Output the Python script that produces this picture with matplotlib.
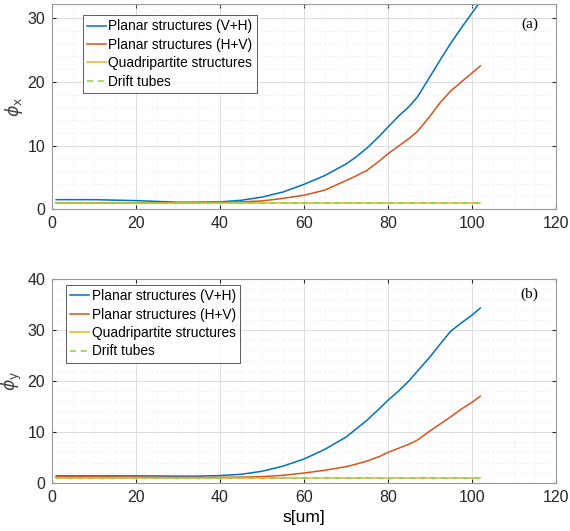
import numpy as np
import matplotlib
matplotlib.use("Agg")
import matplotlib.pyplot as plt
from matplotlib.ticker import MultipleLocator

plt.rcParams["font.family"] = ["Liberation Sans", "DejaVu Sans"]

# s[um] sample positions
s = [1, 10, 20, 30, 35, 40, 45, 50, 55, 60, 65, 70, 72, 75, 78, 80, 82.5, 85, 87, 90, 92.5, 95, 97.5, 100, 102]

# (a) phi_x
phix_vh = [1.5, 1.5, 1.35, 1.1, 1.1, 1.15, 1.4, 1.9, 2.7, 3.9, 5.3, 7.1, 8.0, 9.6, 11.5, 12.9, 14.6, 16.1, 17.6, 20.8, 23.5, 26.1, 28.5, 30.8, 32.6]
phix_hv = [1.0, 1.0, 1.0, 1.0, 1.05, 1.1, 1.15, 1.3, 1.7, 2.2, 3.0, 4.5, 5.1, 6.1, 7.6, 8.7, 9.9, 11.1, 12.2, 14.6, 16.8, 18.6, 20.0, 21.4, 22.5]

# (b) phi_y
phiy_vh = [1.4, 1.4, 1.4, 1.35, 1.35, 1.45, 1.7, 2.3, 3.3, 4.7, 6.6, 9.0, 10.3, 12.3, 14.6, 16.2, 18.0, 20.0, 21.9, 24.7, 27.3, 29.8, 31.4, 32.9, 34.3]
phiy_hv = [1.2, 1.2, 1.15, 1.1, 1.1, 1.1, 1.15, 1.25, 1.5, 1.95, 2.5, 3.2, 3.6, 4.3, 5.2, 6.0, 6.8, 7.6, 8.4, 10.2, 11.6, 13.0, 14.5, 15.8, 17.0]

quad = [1.0] * len(s)
drift = [1.0] * len(s)

labels = ["Planar structures (V+H)", "Planar structures (H+V)",
          "Quadripartite structures", "Drift tubes"]
colors = ["#0072BD", "#D95319", "#EDB120", "#7FDC3A"]

fig = plt.figure(figsize=(5.7, 5.31), dpi=100)
ax1 = fig.add_axes([0.0912, 0.606, 0.884, 0.386])
ax2 = fig.add_axes([0.0912, 0.0904, 0.884, 0.3842])


def draw(ax, vh, hv, ymax, tagpos, tag, ylab, legbox):
    ax.plot(s, vh, color=colors[0], lw=1.1, label=labels[0])
    ax.plot(s, hv, color=colors[1], lw=1.1, label=labels[1])
    ax.plot(s, quad, color=colors[2], lw=1.1, label=labels[2])
    ax.plot(s, drift, color=colors[3], lw=1.1, ls=(0, (4, 3)), label=labels[3])
    ax.set_xlim(0, 120)
    ax.set_ylim(0, ymax)
    ax.xaxis.set_major_locator(MultipleLocator(20))
    ax.xaxis.set_minor_locator(MultipleLocator(5))
    ax.yaxis.set_major_locator(MultipleLocator(10))
    ax.yaxis.set_minor_locator(MultipleLocator(2))
    ax.grid(which="major", color="#dcdcdc", lw=0.7)
    ax.grid(which="minor", color="#ececec", lw=0.6, ls=":")
    ax.set_axisbelow(True)
    ax.tick_params(which="both", direction="in", top=True, right=True,
                   labelsize=11.5, colors="#262626", length=3, pad=5)
    ax.tick_params(which="minor", length=0)
    for sp in ax.spines.values():
        sp.set_color("#999999")
        sp.set_linewidth(0.8)
    ax.text(tagpos[0], tagpos[1], tag, transform=ax.transAxes, fontsize=11,
            family="Liberation Serif", ha="center", va="center")
    ax.set_ylabel(ylab, fontsize=12.5, color="#444444", labelpad=2)
    leg = ax.legend(loc="upper left", bbox_to_anchor=legbox, fontsize=9.9,
                    frameon=True, fancybox=False, handlelength=1.4,
                    handletextpad=0.15, borderpad=0.3, labelspacing=0.32,
                    borderaxespad=0)
    leg.get_frame().set_edgecolor("#333333")
    leg.get_frame().set_linewidth(0.7)


draw(ax1, phix_vh, phix_hv, 32.2, (0.948, 0.90), "(a)", r"$\phi_{\mathrm{x}}$", (0.0615, 0.946))
draw(ax2, phiy_vh, phiy_hv, 40, (0.948, 0.926), "(b)", r"$\phi_{\mathrm{y}}$", (0.028, 0.97))
ax2.set_xlabel("s[um]", fontsize=12.5, labelpad=4)

fig.savefig("out.png", dpi=100)
